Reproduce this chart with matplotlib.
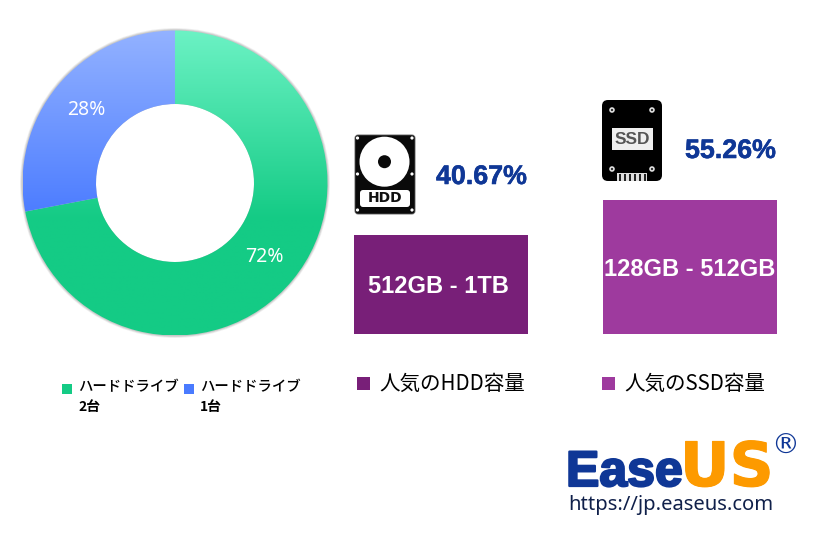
import matplotlib

matplotlib.use("Agg")
import matplotlib.patheffects as pe
import matplotlib.pyplot as plt
import numpy as np
from matplotlib.patches import Circle, FancyBboxPatch, Rectangle

W, H = 813, 539

# data
share_labels = ["ハードドライブ\n2台", "ハードドライブ\n1台"]
share_values = [72, 28]
capacity_labels = ["512GB - 1TB", "128GB - 512GB"]
capacity_values = [40.67, 55.26]
capacity_legend = ["人気のHDD容量", "人気のSSD容量"]

GREEN_TOP, GREEN_BOTTOM = "#6cf2c4", "#14cb85"
BLUE_TOP, BLUE_BOTTOM = "#93b2ff", "#4a7bff"
HDD_BAR = "#781f78"
SSD_BAR = "#9e3a9e"
NAVY = "#0f3796"
ORANGE = "#fd9a00"
JP = ["Noto Sans CJK JP", "DejaVu Sans"]
BOLD = "Liberation Sans"


def px_axes(fig, x0, y0, x1, y1):
    # axes placed by pixel box, y measured from the top of the image
    return fig.add_axes([x0 / W, 1 - y1 / H, (x1 - x0) / W, (y1 - y0) / H])


def ramp(top, bottom, stop=1.0):
    a = np.array(matplotlib.colors.to_rgb(top))
    b = np.array(matplotlib.colors.to_rgb(bottom))
    t = np.clip(np.linspace(0, 1, 256) / stop, 0, 1)[:, None, None]
    return a * (1 - t) + b * t


fig = plt.figure(figsize=(W / 100, H / 100), dpi=100, facecolor="white")

# donut
R = 152.5
ax = px_axes(fig, 175 - R - 6, 183 - R - 6, 175 + R + 6, 183 + R + 6)
lim = (R + 6) / R
ax.axis("off")
for k, a in zip([1.016, 1.011, 1.006], [0.12, 0.18, 0.25]):
    ax.add_patch(Circle((0, 0), k, color="#8a8a8a", alpha=a, lw=0))
wedges, _ = ax.pie(
    share_values, startangle=90, counterclock=False, radius=1,
    wedgeprops={"width": 1 - 79 / R, "linewidth": 0},
)
grads = [(GREEN_TOP, GREEN_BOTTOM, 0.62), (BLUE_TOP, BLUE_BOTTOM, 0.62)]
ax.add_patch(Circle((0, 0), 79 / R, color="white", lw=0, zorder=1.5))
for w, (top, bottom, stop) in zip(wedges, grads):
    w.set_alpha(0)
    im = ax.imshow(ramp(top, bottom, stop), extent=(-1, 1, -1, 1), aspect="auto", zorder=2)
    im.set_clip_path(w.get_path(), w.get_transform())
ax.set_xlim(-lim, lim)
ax.set_ylim(-lim, lim)
ax.text(0.585, -0.485, f"{share_values[0]}%", color="white", fontsize=14, ha="center", va="center",
        family="Noto Sans", zorder=3)
ax.text(-0.58, 0.48, f"{share_values[1]}%", color="white", fontsize=14, ha="center", va="center",
        family="Noto Sans", zorder=3)

# bars, heights scaled from the percentages
bx = px_axes(fig, 0, 91, W, 334)
bx.set_xlim(0, W)
bx.set_ylim(0, 100)
bx.axis("off")
bars = bx.bar([441, 690], capacity_values, width=174, color=[HDD_BAR, SSD_BAR], linewidth=0)
for b, lab, dx in zip(bars, capacity_labels, [-2.5, 0]):
    bx.text(b.get_x() + b.get_width() / 2 + dx, b.get_height() / 2 - 0.9, lab, color="white", fontsize=17,
            fontweight="bold", family=BOLD, ha="center", va="center")

# overlay in image pixels
ov = px_axes(fig, 0, 0, W, H)
ov.set_xlim(0, W)
ov.set_ylim(H, 0)
ov.axis("off")
ov.patch.set_alpha(0)

# legend under the donut
for x, col, lab in zip([62, 184], [GREEN_BOTTOM, BLUE_BOTTOM], share_labels):
    ov.add_patch(Rectangle((x, 384), 9.5, 9.5, color=col, lw=0))
    top, bottom = lab.split("\n")
    ov.text(x + 16, 387, top, fontsize=10.4, family=JP, fontweight="medium", va="center", color="black")
    ov.text(x + 16, 406.5, bottom, fontsize=10, family=JP, fontweight="bold", va="center", color="black")

# legend under the bars
for x, col, lab in zip([357, 602], [HDD_BAR, SSD_BAR], capacity_legend):
    ov.add_patch(Rectangle((x, 377), 13, 13, color=col, lw=0))
    ov.text(x + 22, 383.5, lab, fontsize=14.8, family=JP, va="center", color="black")

# percentages beside the icons
for x, y, v in zip([436, 685], [177, 151], capacity_values):
    ov.text(x, y, f"{v:.2f}%", fontsize=19.3, fontweight="bold", family=BOLD, color=NAVY, va="center",
            path_effects=[pe.withStroke(linewidth=0.4, foreground=NAVY)])

# HDD icon
ov.add_patch(FancyBboxPatch((355, 135), 60, 79, boxstyle="round,pad=0,rounding_size=3", fc="#0a0a0a", ec="#555555", lw=0.6))
ov.add_patch(Circle((384.5, 161.7), 25, color="white", lw=0))
ov.add_patch(Circle((384.5, 161.7), 6.5, color="#0a0a0a", lw=0))
for sx, sy in [(357.5, 138), (412, 138), (357.5, 174), (412, 174), (357.5, 210), (412, 210)]:
    ov.add_patch(Circle((sx, sy), 1.6, color="white", lw=0))
ov.add_patch(FancyBboxPatch((360, 190), 50, 17, boxstyle="round,pad=0,rounding_size=3", fc="white", lw=0))
ov.text(385, 198.5, "HDD", fontsize=10, fontweight="bold", family="DejaVu Sans", ha="center", va="center", color="#111111")

# SSD icon
ov.add_patch(FancyBboxPatch((602, 100), 60, 81, boxstyle="round,pad=0,rounding_size=6", fc="black", lw=0))
ov.add_patch(Rectangle((612, 128), 41, 22, color="#efefef", lw=0))
ov.text(632.5, 139.5, "SSD", fontsize=12.5, fontweight="bold", family=BOLD, ha="center", va="center", color="#555555")
for sx, sy in [(612, 110), (652, 110), (612, 169), (652, 169)]:
    ov.add_patch(Circle((sx, sy), 2.8, color="#dddddd", lw=0))
    ov.add_patch(Circle((sx, sy), 1.1, color="#222222", lw=0))
ov.add_patch(Rectangle((617, 173), 30, 8, color="#dddddd", lw=0))
for sx in range(619, 646, 5):
    ov.add_patch(Rectangle((sx, 174), 2, 7, color="#222222", lw=0))

# logo
ov.text(566, 486, "Ease", fontsize=36, fontweight="bold", family=BOLD, color=NAVY, va="baseline",
        path_effects=[pe.withStroke(linewidth=1.6, foreground=NAVY)])
ov.text(680, 486, "US", fontsize=44, fontweight="bold", family="DejaVu Sans", color=ORANGE, va="baseline",
        path_effects=[pe.withStroke(linewidth=0.8, foreground=ORANGE)])
ov.text(785, 446, "®", fontsize=20, family="DejaVu Sans", color=NAVY, ha="center", va="center")
ov.text(671, 505, "https://jp.easeus.com", fontsize=14.5, family="Noto Sans", color="#10204a", ha="center", va="center")

fig.savefig("out.png", dpi=100, facecolor="white")
